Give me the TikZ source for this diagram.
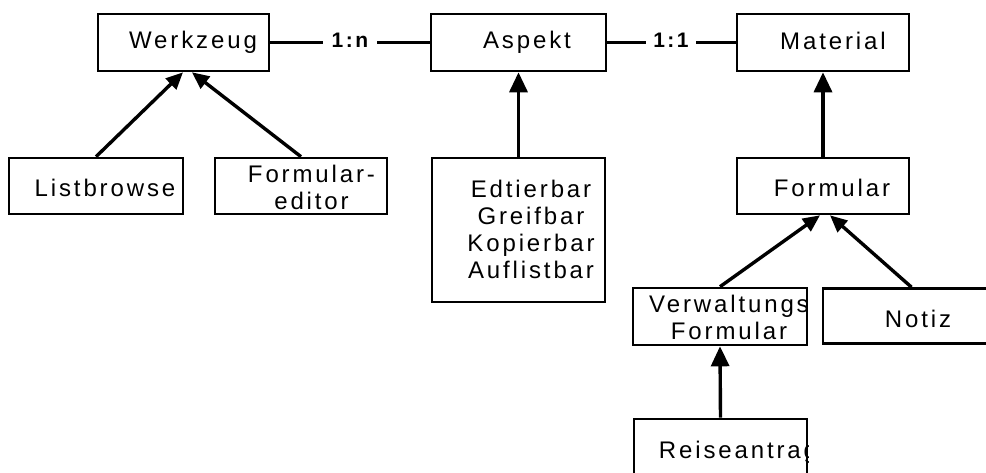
\documentclass[tikz,border=0pt]{standalone}
\usepackage{fontspec}
\setmainfont{Liberation Sans}[LetterSpace=12]
\usetikzlibrary{arrows.meta}
\begin{document}
\begin{tikzpicture}[x=1pt,y=-1pt,
  box/.style={draw, line width=2.6pt, rectangle, inner sep=0pt},
  txt/.style={font=\fontsize{24}{27}\selectfont, inner sep=0pt},
  lbl/.style={font=\bfseries\fontsize{21}{24}\selectfont, inner sep=0pt, anchor=base},
  link/.style={line width=2.4pt},
  arr/.style={line width=3.4pt, -{Triangle[width=18pt,length=20pt]}},
  arrs/.style={line width=3.4pt, -{Triangle[width=15pt,length=17pt]}}]
\clip (0,0) rectangle (986,473);

% classes
\node[box, minimum width=171pt, minimum height=57pt] (wz) at (183.5,42.5) {};
\node[box, minimum width=175pt, minimum height=57pt] (as) at (518.5,42.5) {};
\node[box, minimum width=172pt, minimum height=57pt] (ma) at (823,42.5) {};
\node[box, minimum width=174pt, minimum height=56pt] (lb) at (96,186) {};
\node[box, minimum width=172pt, minimum height=56pt] (fe) at (301,186) {};
\node[box, minimum width=173pt, minimum height=144pt] (ed) at (518.5,230) {};
\node[box, minimum width=172pt, minimum height=56pt] (fo) at (823,186) {};
\node[box, minimum width=174pt, minimum height=57pt] (vw) at (720,316.5) {};
\node[box, minimum width=177pt, minimum height=55pt] (no) at (911.5,316) {};
\node[box, minimum width=173pt, minimum height=56pt] (re) at (720.5,447) {};

% class names
\node[txt, anchor=base] (wzt) at (193,48.5) {Werkzeug};
\node[txt, anchor=base] (ast) at (527,48.5) {Aspekt};
\node[txt, anchor=base] (mat) at (833,49.5) {Material};
\node[txt, anchor=base] (lbt) at (105,197) {Listbrowse};
\node[txt, align=center] (fet) at (311.5,187.5) {Formular-\\editor};
\node[txt, align=center] (edt) at (531,229.5) {Edtierbar\\Greifbar\\Kopierbar\\Auflistbar};
\node[txt, anchor=base] (fot) at (832,197) {Formular};
\node[txt, anchor=base] (not) at (918,327) {Notiz};
\begin{scope}
  \clip (vw.south west) rectangle (vw.north east);
  \node[txt, align=center] (vwt) at (729,317.5) {Verwaltungs\\Formular};
\end{scope}
\begin{scope}
  \clip (re.south west) rectangle (re.north east);
  \node[txt, anchor=base] (ret) at (738,458) {Reiseantrag};
\end{scope}

% associations
\node[lbl, minimum width=54pt] (l1) at (350,47.5) {1:n};
\node[lbl, minimum width=50pt] (l2) at (671,47.5) {1:1};
\draw[link] (wz.east) -- (wz.east -| l1.west);
\draw[link] (as.west -| l1.east) -- (as.west);
\draw[link] (as.east) -- (as.east -| l2.west);
\draw[link] (ma.west -| l2.east) -- (ma.west);

% inheritance
\draw[arrs] (lb.north) -- ([xshift=-0.5pt]wz.south);
\draw[arrs] (fe.north) -- ([xshift=8.5pt]wz.south);
\draw[arr] (ed.north) -- (as.south);
\draw[arr] (fo.north) -- (ma.south);
\draw[arrs] (vw.north) -- ([xshift=-3pt]fo.south);
\draw[arrs] (no.north) -- ([xshift=7pt]fo.south);
\draw[arr] (re.north) -- (vw.south);
\end{tikzpicture}
\end{document}
